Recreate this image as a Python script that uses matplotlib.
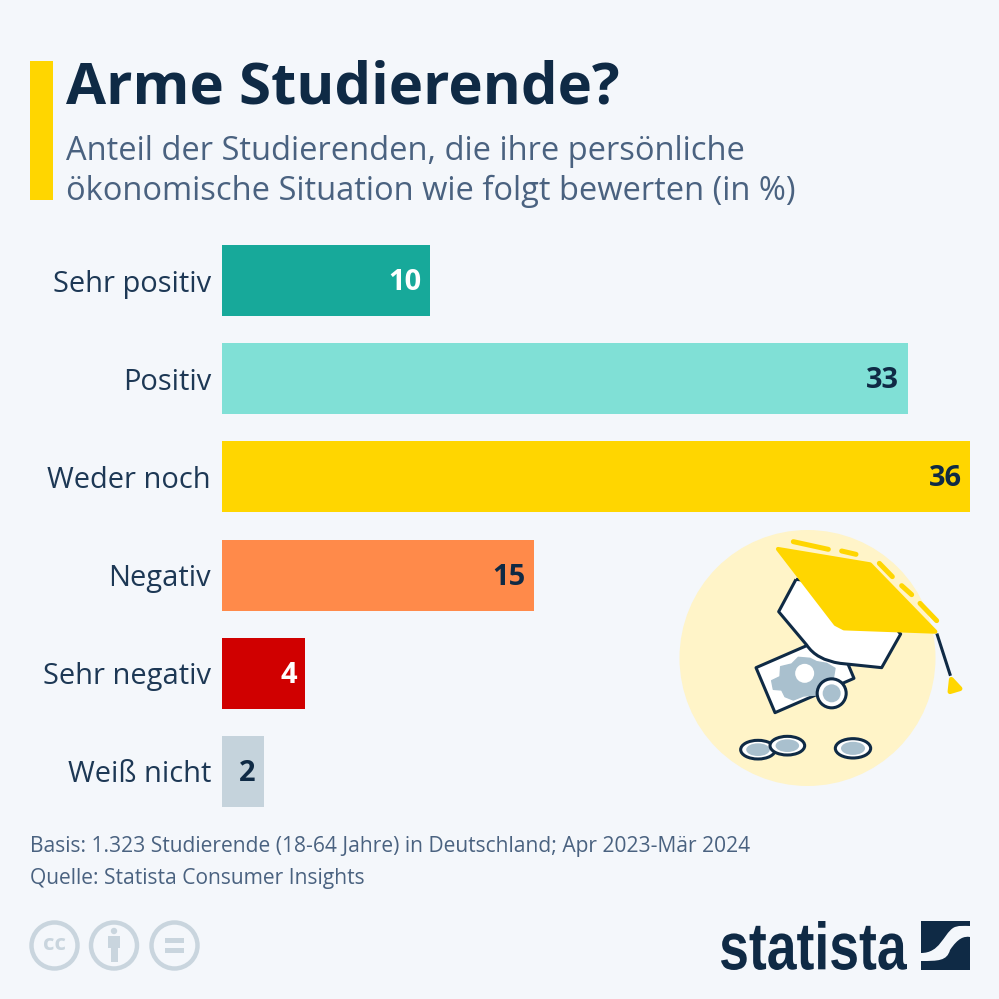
import matplotlib
matplotlib.use("Agg")
import matplotlib.pyplot as plt
from matplotlib.patches import Polygon, Circle, Ellipse, Rectangle, PathPatch
from matplotlib.path import Path
from matplotlib.textpath import TextPath
from matplotlib.font_manager import FontProperties
from matplotlib.transforms import Affine2D

categories = ["Sehr positiv", "Positiv", "Weder noch", "Negativ", "Sehr negativ", "Weiß nicht"]
values = [10, 33, 36, 15, 4, 2]
bar_colors = ["#17A99A", "#80E0D6", "#FFD600", "#FF8A4A", "#D00000", "#C5D3DC"]
label_colors = ["white", "#0F2A45", "#0F2A45", "#0F2A45", "white", "#0F2A45"]

title = "Arme Studierende?"
subtitle = ["Anteil der Studierenden, die ihre persönliche",
            "ökonomische Situation wie folgt bewerten (in %)"]
notes = ["Basis: 1.323 Studierende (18-64 Jahre) in Deutschland; Apr 2023-Mär 2024",
         "Quelle: Statista Consumer Insights"]

BG = "#F4F7FB"; NAVY = "#0F2A45"; SUB = "#4A6280"; NOTE = "#4A6280"; LG = "#C9D5DE"
plt.rcParams["font.family"] = ["Open Sans", "DejaVu Sans"]
W = 999
fig = plt.figure(figsize=(W/100, W/100), dpi=100, facecolor=BG)

# overlay in pixel coordinates
o = fig.add_axes([0, 0, 1, 1], zorder=3)
o.set_xlim(0, W); o.set_ylim(W, 0); o.axis("off"); o.patch.set_alpha(0)

# chart axes
top, bottom, left, right = 245, 807, 222, 970
ax = fig.add_axes([left/W, 1-bottom/W, (right-left)/W, (bottom-top)/W], zorder=2)
ax.patch.set_alpha(0)
ypos = list(range(len(values)))
ax.barh(ypos, values, height=0.724, color=bar_colors)
ax.set_xlim(0, 36); ax.set_ylim(5.362, -0.362)
ax.set_yticks(ypos, categories, fontsize=20.9, color="#1D3855")
ax.set_xticks([])
ax.tick_params(axis="y", length=0, pad=8)
for s in ax.spines.values():
    s.set_visible(False)
for y, v, c in zip(ypos, values, label_colors):
    ax.annotate(str(v), (v, y), xytext=(-6, -1.5), textcoords="offset points",
                ha="right", va="center", fontsize=20.9, fontweight="bold", color=c)

# header
o.add_patch(Rectangle((30, 61), 23, 139, color="#FFD600", lw=0))
o.text(66, 104, title, fontsize=41.9, fontweight="bold", color=NAVY, va="baseline")
o.text(66, 160, subtitle[0], fontsize=23.5, color=SUB, va="baseline")
o.text(66, 200, subtitle[1], fontsize=23.5, color=SUB, va="baseline")
o.text(30, 852, notes[0], fontsize=15.15, color=NOTE, va="baseline")
o.text(30, 884, notes[1], fontsize=15.15, color=NOTE, va="baseline")

# illustration
def z(*pts):
    return [(660+x/3, 520+y/3) for x, y in pts]

o.add_patch(Circle((807.5, 658), 128, color="#FFF4C8", lw=0))
lw = 2.2
# banknote
o.add_patch(Polygon(z((288,443),(525,340),(582,475),(345,578)), fc="white", ec=NAVY, lw=lw, joinstyle="round"))
gear = [(335,482),(360,470),(362,440),(395,432),(415,412),(450,415),(470,425),(500,430),(525,445),
        (520,475),(490,490),(470,525),(430,528),(400,540),(375,530),(365,510),(340,508)]
o.add_patch(Polygon(z(*gear), fc="#A9C0CE", ec="#A9C0CE", lw=1, joinstyle="round"))
cx, cy = z((434,460))[0]
o.add_patch(Circle((cx, cy), 9.5, fc="white", ec="none"))
# coin on note
cx, cy = z((515,520))[0]
o.add_patch(Circle((cx, cy), 14.5, fc="white", ec=NAVY, lw=lw))
o.add_patch(Circle((cx, cy), 9, fc="#A9C0CE", ec="none"))
# cap body
body = z((408,178),(356,275),(356,275),(440,375),(470,420),(540,430),(665,443),(722,342),(600,200),(408,178))
codes = [Path.MOVETO, Path.LINETO, Path.LINETO, Path.LINETO, Path.CURVE3, Path.CURVE3,
         Path.LINETO, Path.LINETO, Path.LINETO, Path.LINETO]
o.add_patch(PathPatch(Path(body, codes), fc="white", ec=NAVY, lw=lw, joinstyle="round"))
# cap top
o.add_patch(Polygon(z((354,87),(630,133),(826,335),(552,325),(527,312)), fc="#FFD600", ec="#FFD600", lw=3, joinstyle="round"))
# dashes
for a, b in [((400,65),(505,88)), ((545,93),(588,103)), ((658,130),(697,170)),
             ((725,197),(755,224)), ((780,250),(830,302))]:
    (x0, y0), (x1, y1) = z(a, b)
    o.plot([x0, x1], [y0, y1], color="#FFD600", lw=3.6, solid_capstyle="round")
# tassel
(x0, y0), (x1, y1) = z((832,345), (870,463))
o.plot([x0, x1], [y0, y1], color=NAVY, lw=lw)
o.add_patch(Polygon(z((874,478),(900,506),(870,515)), fc="#FFD600", ec="#FFD600", lw=3.5, joinstyle="round"))
# lying coins
for zx, zy, rx, ry in [(294,689,52,28), (382,677,52,28), (579,685,53,29)]:
    cx, cy = z((zx, zy))[0]
    o.add_patch(Ellipse((cx, cy), 2*rx/3, 2*ry/3, fc="white", ec=NAVY, lw=lw))
    o.add_patch(Ellipse((cx, cy), 2*rx/3*0.68, 2*ry/3*0.68, fc="#A9C0CE", ec="none"))

# licence icons
for cx in [54.5, 114, 174.5]:
    o.add_patch(Ellipse((cx, 945.5), 46, 46, fc="none", ec=LG, lw=3.2))
o.text(54.5, 944, "cc", fontsize=16, fontweight="bold", color=LG, ha="center", va="center")
o.add_patch(Circle((114, 931), 3.2, color=LG, lw=0))
o.add_patch(Rectangle((108, 936), 12, 12, color=LG, lw=0))
o.add_patch(Rectangle((110.5, 947), 7, 15, color=LG, lw=0))
o.add_patch(Rectangle((165, 938), 19, 4.5, color=LG, lw=0))
o.add_patch(Rectangle((165, 948), 19, 4.5, color=LG, lw=0))

# statista logo
tp = TextPath((0, 0), "statista", size=40, prop=FontProperties(family="Liberation Sans", weight="bold"))
e = tp.get_extents()
tr = Affine2D().translate(-e.x0, -e.y0).scale(186/e.width, -49/e.height).translate(721, 970)
o.add_patch(PathPatch(tr.transform_path(tp), fc=NAVY, ec="none"))

o.add_patch(Rectangle((921, 921), 49, 48.5, color=NAVY, lw=0))
S = [(921, 953), (940, 953), (943, 935), (953, 928), (958, 925), (964, 926), (970, 926),
     (970, 937), (964, 936), (958, 938), (950, 950), (947, 961), (938, 961), (921, 961), (921, 953)]
Scodes = [Path.MOVETO, Path.CURVE4, Path.CURVE4, Path.CURVE4, Path.CURVE4, Path.CURVE4, Path.CURVE4,
          Path.LINETO, Path.CURVE4, Path.CURVE4, Path.CURVE4, Path.CURVE4, Path.CURVE4, Path.CURVE4, Path.LINETO]
o.add_patch(PathPatch(Path(S, Scodes), fc=BG, ec="none"))

fig.savefig("out.png", dpi=100, facecolor=BG)
